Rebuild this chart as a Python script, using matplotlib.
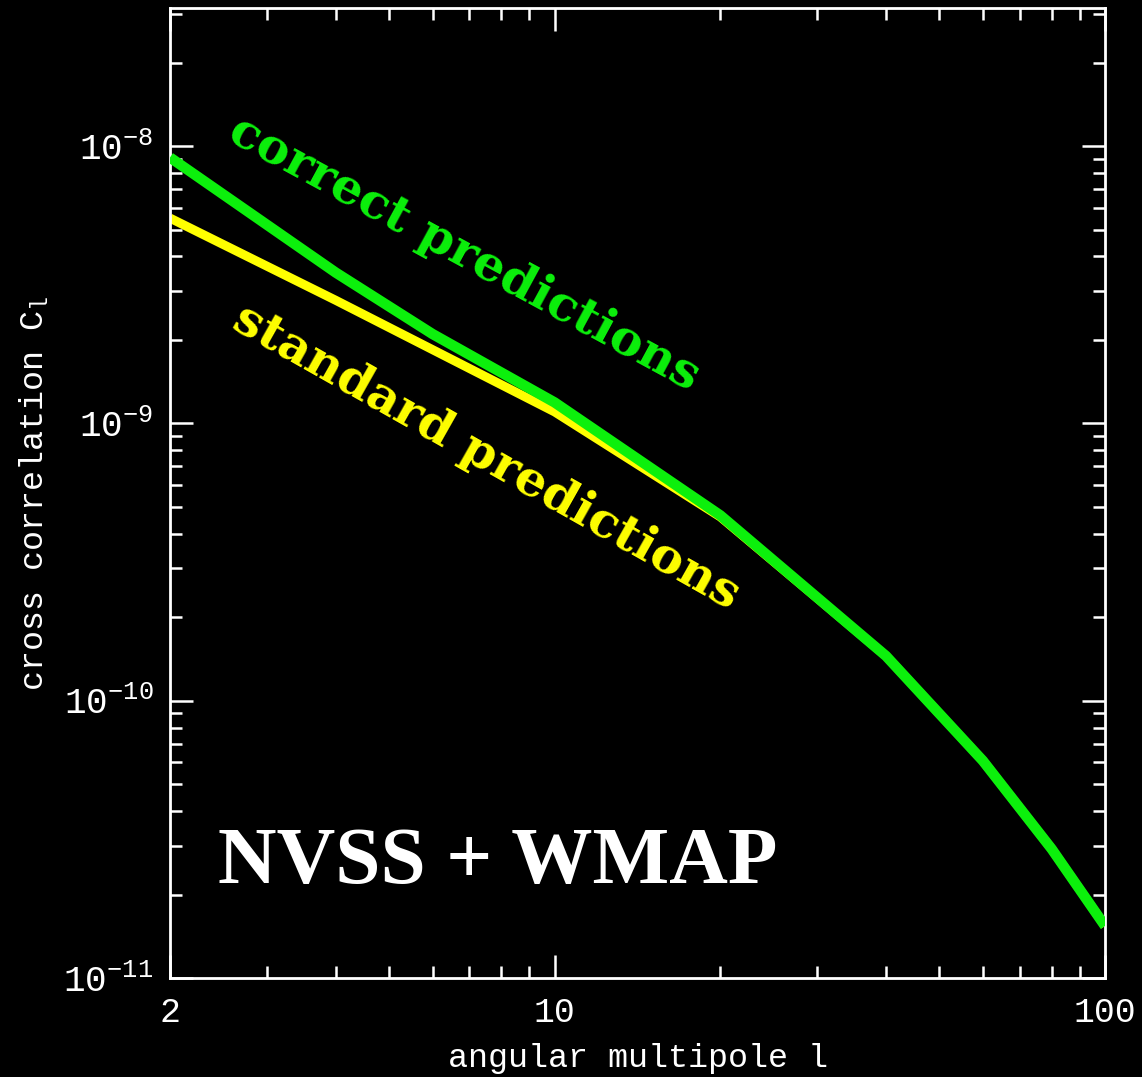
import matplotlib
matplotlib.use("Agg")
import matplotlib.pyplot as plt
from matplotlib.ticker import FixedLocator, NullFormatter

# multipole l and cross-correlation C_l
ell_correct = [2, 4, 6, 10, 20, 40, 60, 80, 100]
cl_correct = [9.1e-9, 3.5e-9, 2.1e-9, 1.19e-9, 4.66e-10, 1.45e-10, 6.07e-11, 2.92e-11, 1.54e-11]
ell_standard = [2, 4, 10, 20, 40, 60, 80, 100]
cl_standard = [5.5e-9, 2.78e-9, 1.1e-9, 4.6e-10, 1.45e-10, 6.07e-11, 2.92e-11, 1.54e-11]

xticks = [2, 10, 100]
xtick_labels = ["2", "10", "100"]
yticks = [1e-11, 1e-10, 1e-9, 1e-8]
ytick_labels = [r"$\mathregular{10^{-11}}$", r"$\mathregular{10^{-10}}$",
                r"$\mathregular{10^{-9}}$", r"$\mathregular{10^{-8}}$"]

GREEN = "#0cf00c"
YELLOW = "#ffff00"
MONO = "Liberation Mono"

fig = plt.figure(figsize=(11.42, 10.77), dpi=100, facecolor="black")
ax = fig.add_axes([170 / 1142, 99 / 1077, 935 / 1142, 970 / 1077], facecolor="black")

ax.plot(ell_standard, cl_standard, color=YELLOW, lw=6.5, solid_capstyle="butt", zorder=2)
ax.plot(ell_correct, cl_correct, color=GREEN, lw=7.5, solid_capstyle="butt", zorder=3)

ax.set_xscale("log")
ax.set_yscale("log")
ax.set_xlim(2, 100)
ax.set_ylim(1e-11, 10 ** -7.502)

ax.set_xticks(xticks, xtick_labels)
ax.set_yticks(yticks, ytick_labels)
ax.xaxis.set_minor_locator(FixedLocator([3, 4, 5, 6, 7, 8, 9, 20, 30, 40, 50, 60, 70, 80, 90]))
ax.yaxis.set_minor_locator(FixedLocator([m * 10.0 ** e for e in range(-11, -7) for m in range(2, 10)]))
ax.xaxis.set_minor_formatter(NullFormatter())
ax.yaxis.set_minor_formatter(NullFormatter())

for s in ax.spines.values():
    s.set_color("white")
    s.set_linewidth(2.0)
ax.tick_params(which="both", direction="in", top=True, right=True, colors="white", width=1.8)
ax.tick_params(which="major", length=16.5)
ax.tick_params(which="minor", length=8.5)
ax.tick_params(axis="x", which="major", pad=13, labelsize=25)
ax.tick_params(axis="y", which="major", pad=12, labelsize=26)
for lab in ax.get_xticklabels() + ax.get_yticklabels():
    lab.set_family(MONO)

fig.text(637.5 / 1142, 1 - 1058 / 1077, "angular multipole l", color="white",
         family=MONO, fontsize=24, ha="center", va="center")
fig.text(34 / 1142, 1 - 493 / 1077, r"cross correlation C$\mathregular{_l}$", color="white",
         family=MONO, fontsize=24, ha="center", va="center", rotation=90)

ax.text(0.315, 0.747, "correct predictions", transform=ax.transAxes, color=GREEN,
        family="DejaVu Serif", fontweight="bold", fontsize=35.5, rotation=-28.5,
        rotation_mode="anchor", ha="center", va="center")
ax.text(0.338, 0.537, "standard predictions", transform=ax.transAxes, color=YELLOW,
        family="DejaVu Serif", fontweight="bold", fontsize=35.5, rotation=-29.5,
        rotation_mode="anchor", ha="center", va="center")
ax.text(48 / 935, 95 / 970, "NVSS + WMAP", transform=ax.transAxes, color="white",
        family="Liberation Serif", fontweight="bold", fontsize=58.5, ha="left", va="baseline")

fig.savefig("out.png", dpi=100, facecolor="black")
